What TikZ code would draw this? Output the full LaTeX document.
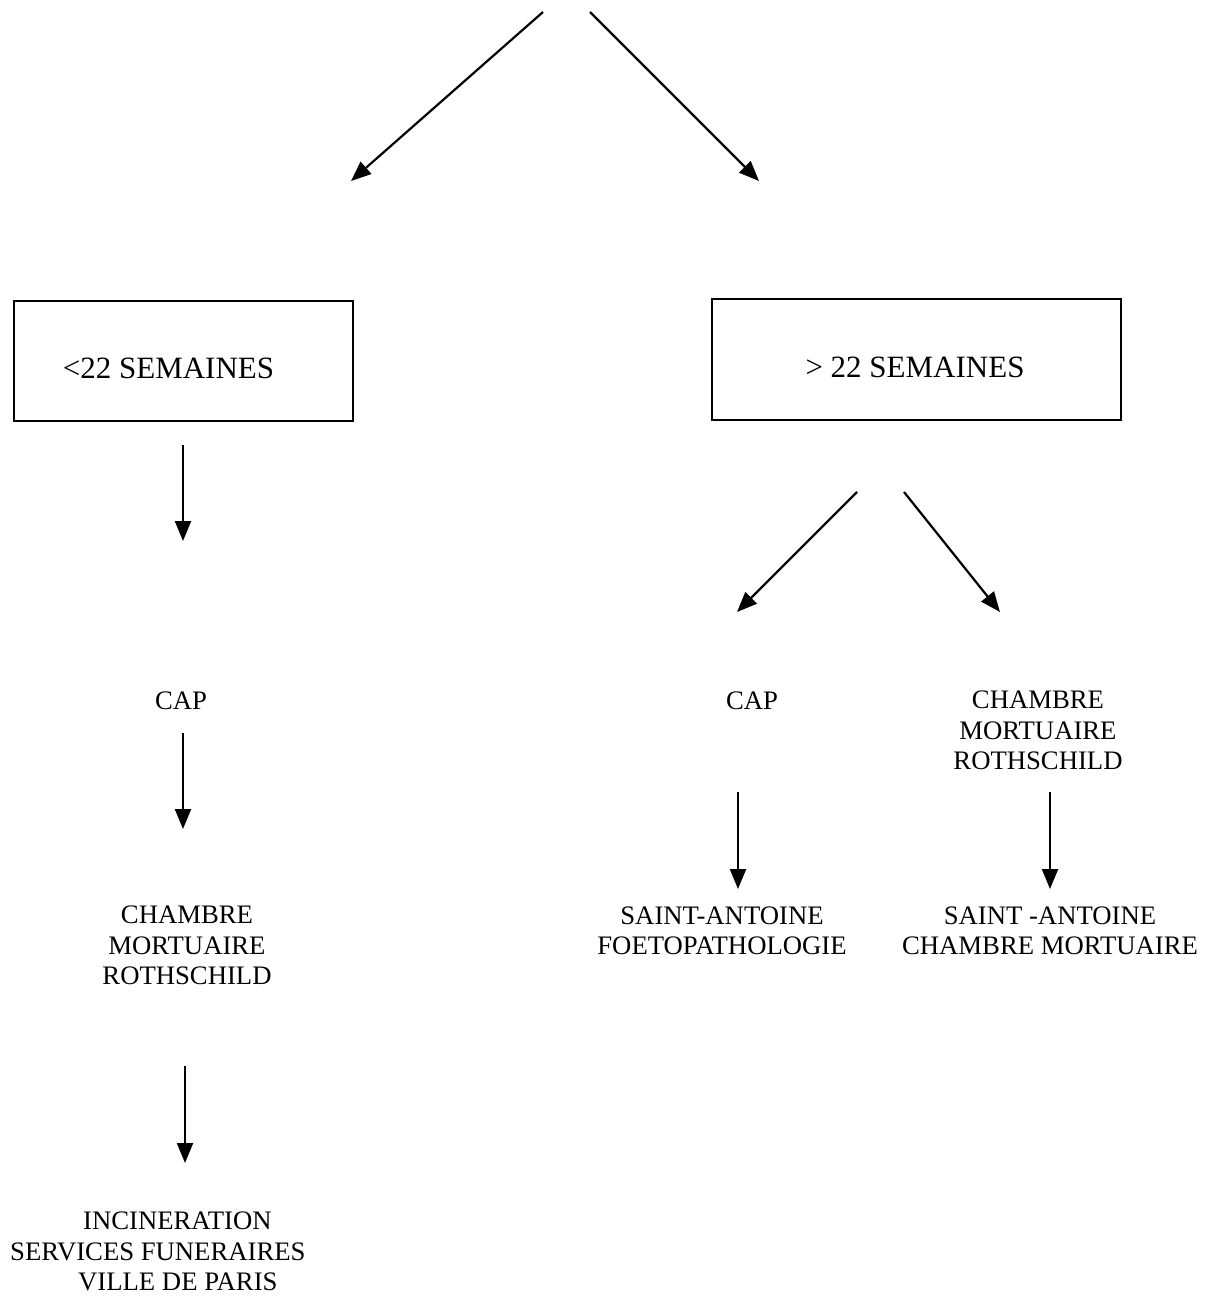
\documentclass[tikz,border=0pt]{standalone}
\usepackage{fontspec}
\setmainfont{Liberation Serif}
\usetikzlibrary{arrows.meta}
\begin{document}
\begin{tikzpicture}[x=1pt,y=-1pt,
  txt/.style={inner sep=0pt,align=center,font=\fontsize{26.7}{30.5}\selectfont},
  bigtxt/.style={inner sep=0pt,font=\fontsize{31}{36}\selectfont},
  box/.style={draw,line width=2.2pt,inner sep=0pt},
  arr/.style={line width=2.2pt,-{Triangle[length=20pt,width=16pt]}}]
\useasboundingbox (0,0) rectangle (1212,1296);
% boxes
\node[box,minimum width=339pt,minimum height=120pt] (lbox) at (183.5,361) {};
\node[bigtxt] (ltxt) at (168.5,368) {<22 SEMAINES};
\node[box,minimum width=409pt,minimum height=121pt] (rbox) at (916.5,359.5) {};
\node[bigtxt] (rtxt) at (915,367) {> 22 SEMAINES};
% left column
\node[txt] (lcap) at (181,700.5) {CAP};
\node[txt] (lcham) at (187,945.5) {CHAMBRE\\MORTUAIRE\\ROTHSCHILD};
\node[txt,align=left,anchor=west] (linc) at (10,1251.5) {\hspace*{73pt}INCINERATION\\SERVICES FUNERAIRES\\\hspace*{68pt}VILLE DE PARIS};
% right column
\node[txt] (rcap) at (752,700.5) {CAP};
\node[txt] (rcham) at (1038,730.5) {CHAMBRE\\MORTUAIRE\\ROTHSCHILD};
\node[txt] (rsaf) at (722,931) {SAINT-ANTOINE\\FOETOPATHOLOGIE};
\node[txt] (rsac) at (1050,931) {SAINT -ANTOINE\\CHAMBRE MORTUAIRE};
% arrow end coordinates
\coordinate (t1) at (543,12);
\coordinate (t1e) at (351,181);
\coordinate (t2) at (590,12);
\coordinate (t2e) at (759,181);
\coordinate (a1) at (183,445);
\coordinate (a1e) at (183,541);
\coordinate (a2) at (183,733);
\coordinate (a2e) at (183,829);
\coordinate (a3) at (185,1066);
\coordinate (a3e) at (185,1163);
\coordinate (b1) at (857,492);
\coordinate (b1e) at (737,612);
\coordinate (b2) at (904,492);
\coordinate (b2e) at (1000,612);
\coordinate (c1) at (738,792);
\coordinate (c1e) at (738,889);
\coordinate (c2) at (1050,792);
\coordinate (c2e) at (1050,889);
% arrows
\foreach \s/\e in {t1/t1e,t2/t2e,a1/a1e,a2/a2e,a3/a3e,b1/b1e,b2/b2e,c1/c1e,c2/c2e}
  \draw[arr] (\s) -- (\e);
\end{tikzpicture}
\end{document}
